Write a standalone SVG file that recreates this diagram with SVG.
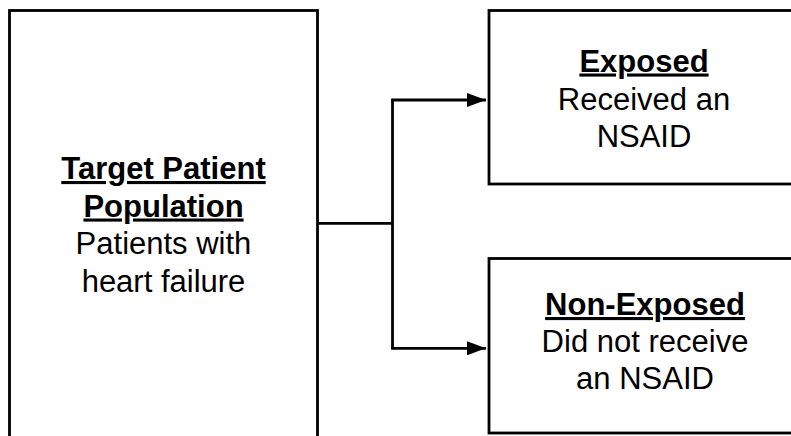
<svg xmlns="http://www.w3.org/2000/svg" width="791" height="436" viewBox="0 0 791 436">
  <style>
    .box { fill: #ffffff; stroke: #000000; stroke-width: 2.8; }
    .wire { fill: none; stroke: #000000; stroke-width: 2.8; }
    .title { font-family: "Liberation Sans", Arial, sans-serif; font-size: 31px; font-weight: bold; text-decoration: underline; text-anchor: middle; fill: #000; }
    .body { font-family: "Liberation Sans", Arial, sans-serif; font-size: 31px; text-anchor: middle; fill: #000; }
  </style>
  <defs>
    <marker id="arrow" markerUnits="userSpaceOnUse" markerWidth="20" markerHeight="14" refX="19" refY="7" orient="auto">
      <path d="M0,0 L19,7 L0,14 Z" fill="#000"/>
    </marker>
  </defs>
  <rect width="791" height="436" fill="#ffffff"/>

  <g id="target-population">
    <rect class="box" x="9.5" y="10.5" width="308" height="440"/>
    <text class="title" x="163.5" y="179">Target Patient</text>
    <text class="title" x="163.5" y="216.5">Population</text>
    <text class="body" x="163.5" y="254">Patients with</text>
    <text class="body" x="163.5" y="291.5">heart failure</text>
  </g>

  <g id="exposed">
    <rect class="box" x="489" y="10.5" width="320" height="173.5"/>
    <text class="title" x="644" y="71.5">Exposed</text>
    <text class="body" x="644" y="109.5">Received an</text>
    <text class="body" x="644" y="146.5">NSAID</text>
  </g>

  <g id="non-exposed">
    <rect class="box" x="489" y="258.5" width="320" height="174.5"/>
    <text class="title" x="645" y="315">Non-Exposed</text>
    <text class="body" x="645" y="351.5">Did not receive</text>
    <text class="body" x="645" y="388.5">an NSAID</text>
  </g>

  <g id="connectors">
    <path class="wire" d="M317.5,223.3 H392.5"/>
    <path class="wire" d="M392.5,100 V348.3"/>
    <path class="wire" d="M391.1,100 H486" marker-end="url(#arrow)"/>
    <path class="wire" d="M391.1,348.3 H486" marker-end="url(#arrow)"/>
  </g>
</svg>
